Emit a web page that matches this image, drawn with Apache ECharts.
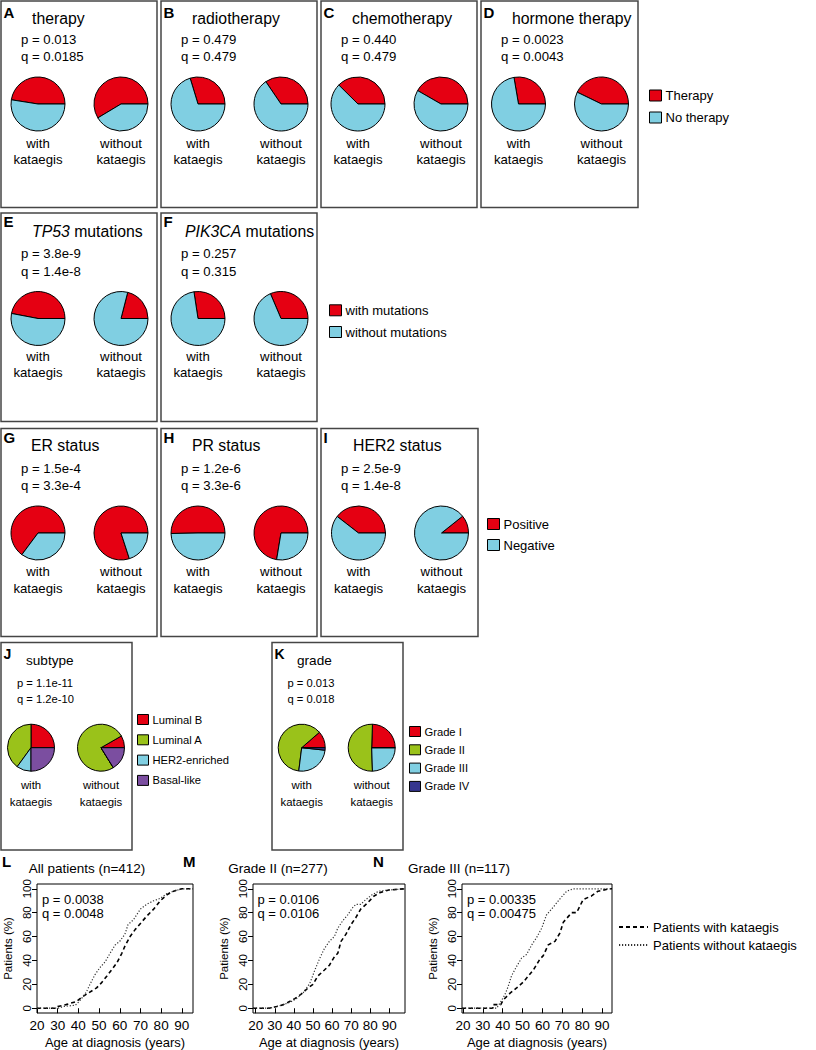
<!DOCTYPE html>
<html>
<head>
<meta charset="utf-8">
<script src="https://cdn.jsdelivr.net/npm/echarts@6/dist/echarts.min.js"></script>
<style>
html,body{margin:0;padding:0;background:#fff;}
#chart{width:816px;height:1050px;}
</style>
</head>
<body>
<div id="chart"></div>
<script>
// ---------------- DATA ----------------
const panelLetters = ['A','B','C','D','E','F','G','H','I','J','K'];
const panelTitles = ['therapy','radiotherapy','chemotherapy','hormone therapy','{i|TP53} mutations','{i|PIK3CA} mutations','ER status','PR status','HER2 status','subtype','grade'];
const pValues = ['0.013','0.479','0.440','0.0023','3.8e-9','0.257','1.5e-4','1.2e-6','2.5e-9','1.1e-11','0.013'];
const qValues = ['0.0185','0.479','0.479','0.0043','1.4e-8','0.315','3.3e-4','3.3e-6','1.4e-8','1.2e-10','0.018'];
const groupLabels = [['with','kataegis'],['without','kataegis']];

const therapyCats = ['Therapy','No therapy'];
const mutationCats = ['with mutations','without mutations'];
const statusCats = ['Positive','Negative'];
const subtypeCats = ['Luminal B','Luminal A','HER2-enriched','Basal-like'];
const gradeCats = ['Grade I','Grade II','Grade III','Grade IV'];

// percentages, in legend order (first slice starts at 3 o'clock, counter-clockwise)
const withKataegis = [
  [47.5,52.5],[29.7,70.3],[37.6,62.4],[27.7,72.3],
  [47,53],[27.4,72.6],
  [64.8,35.2],[50.3,49.7],[39.5,60.5],
  [25,40,10,25],[11.4,61.6,25.3,1.7]
];
const withoutKataegis = [
  [58.6,41.4],[34.5,65.5],[41.7,58.3],[42.8,57.2],
  [21,79],[31.4,68.6],
  [80,20],[72.4,27.6],[10.7,89.3],
  [8.3,75.5,0,16.2],[24.5,51,24.5,0]
];

const kmLetters = ['L','M','N'];
const kmTitles = ['All patients (n=412)','Grade II (n=277)','Grade III (n=117)'];
const kmP = ['0.0038','0.0106','0.00335'];
const kmQ = ['0.0048','0.0106','0.00475'];
const kmSeriesNames = ['Patients with kataegis','Patients without kataegis'];
const xTicks = [20,30,40,50,60,70,80,90];
const yTicks = [0,20,40,60,80,100];

const lAgeWith = [20,28.5,30,34,39,41.5,44.7,48.8,51,53.8,56,58.6,61,62.5,65,67.5,70,73,76.4,79.6,82.8,86,90,95.4];
const lPctWith = [0,0,1.4,3,5.6,9,12.6,17,21,27,32,38,46,52,60,66,71,77,83,90,95,98,100,100];
const lAgeWithout = [20,30,33,38.5,40,41.5,44,45.6,48,50.4,53,55.3,57.8,60,62.5,64,66.6,70,73,76.4,79.6,82.8,86,90,95.4];
const lPctWithout = [0,0,1.5,2.5,5,8,14,20,28,34,39,46,53,56,62,70,74,83,87,90,92,96,98,100,100];

const mAgeWith = [18.6,27,31,34.5,37,40.5,44,47.5,50,52.6,56,58.6,61.2,63,64.7,67.3,69.9,72.5,75,78.5,82,85.4,89.8,98];
const mPctWith = [0,0,1.4,3,5,8,12,17,20,27,32,36,43,46,56,62,70,76,83,88,94,97,99,100];
const mAgeWithout = [18.6,27,31,34.5,38,41.4,44.9,48.4,51,53.6,56,58.6,61.2,63,65.5,68.1,70.7,72.5,75,77.7,81,84.5,89.8,98];
const mPctWithout = [0,0,1.4,3,5,8,13,21,32,42,50,56,60,67,73,78,84,87,87,91,95,98,99,100];

const nAgeWith = [19.5,35,35,39,40.3,43.7,47,50.4,55.4,58.7,60.4,62.9,66.3,68.8,70.5,74.7,77.2,80.5,84.7,88,93.9,95];
const nPctWith = [0,0,3,3,7,12.6,17,22,32,41,44,53,56,63,72,80,80,91,94,98,100,100];
const nAgeWithout = [19.5,37,38.5,41,42.7,44.4,47,49.5,52,54.6,57,59.6,62,65.6,69,72.2,75.6,95];
const nPctWithout = [0,0,4,11,18,27,35,42,45,53,59,67,78,85,92,98,100,100];

// ---------------- STYLE / LAYOUT ----------------
const FONT = '"Liberation Sans", Arial, Helvetica, sans-serif';
const RED = '#e50012', BLUE = '#80cfe2', GREEN = '#9ac21a', PURPLE = '#7b4ea0', NAVY = '#35358f';
const twoColors = [RED, BLUE];
const subtypeColors = [RED, GREEN, BLUE, PURPLE];
const gradeColors = [RED, GREEN, BLUE, NAVY];

const rows = [
  {top:1, bottom:207.5, letterY:12, titleY:18, pY:39, qY:56.5, pieY:104, withY:143.5, katY:159.5, r:27, tFs:15.8, pFs:13.2, lFs:13.2, letFs:15},
  {top:213, bottom:421.5, letterY:221.7, titleY:231.7, pY:253.8, qY:271.3, pieY:318.5, withY:356.7, katY:372.5, r:27, tFs:15.8, pFs:13.2, lFs:13.2, letFs:15},
  {top:428.5, bottom:636.5, letterY:437.5, titleY:445, pY:468.3, qY:485, pieY:533, withY:571.7, katY:588, r:27, tFs:15.8, pFs:13.2, lFs:13.2, letFs:15},
  {top:642.5, bottom:850, letterY:654, titleY:660, pY:682.7, qY:699.3, pieY:747.7, withY:785.3, katY:801.5, r:23.5, tFs:13.6, pFs:11.2, lFs:11.4, letFs:14}
];
// panel: row, box left, box width, title offset, p offset, pie offsets
const panelLayout = [
  {row:0, left:1, w:156, tx:31, px:20, pies:[37,120]},
  {row:0, left:161, w:156, tx:31, px:20, pies:[37,120]},
  {row:0, left:321, w:156, tx:31, px:20, pies:[37,120]},
  {row:0, left:481, w:157, tx:31, px:20, pies:[37.5,120.5]},
  {row:1, left:1, w:156, tx:31, px:20, pies:[37,120]},
  {row:1, left:161, w:156, tx:24, px:20, pies:[37,120]},
  {row:2, left:1, w:156, tx:30, px:20, pies:[37,120]},
  {row:2, left:161, w:156, tx:31, px:20, pies:[37,120]},
  {row:2, left:321, w:157, tx:32, px:20, pies:[37.5,120.5]},
  {row:3, left:1, w:131, tx:25, px:16, pies:[30,100]},
  {row:3, left:272, w:131, tx:25, px:15.5, pies:[29.7,99.7]}
];
const panelCats = [therapyCats,therapyCats,therapyCats,therapyCats,mutationCats,mutationCats,statusCats,statusCats,statusCats,subtypeCats,gradeCats];
const panelColors = [twoColors,twoColors,twoColors,twoColors,twoColors,twoColors,twoColors,twoColors,twoColors,subtypeColors,gradeColors];

function txt(x, y, text, size, o) {
  o = o || {};
  const st = {
    text: text, fontSize: size, fontFamily: FONT, fill: '#000',
    fontWeight: o.bold ? 'bold' : 'normal',
    align: o.align || 'left', verticalAlign: 'middle',
    textAlign: o.align || 'left', textVerticalAlign: 'middle'
  };
  if (o.rich) st.rich = o.rich;
  return {type:'text', x:x, y:y, silent:true, style:st, z:10};
}

const graphics = [];
const series = [];

panelLayout.forEach((pl, i) => {
  const rw = rows[pl.row];
  graphics.push({type:'rect', silent:true, z:1,
    shape:{x:pl.left, y:rw.top, width:pl.w, height:rw.bottom - rw.top},
    style:{fill:'none', stroke:'#454545', lineWidth:1.5}});
  graphics.push(txt(pl.left + 2.5, rw.letterY, panelLetters[i], rw.letFs, {bold:true}));
  graphics.push(txt(pl.left + pl.tx, rw.titleY, panelTitles[i], rw.tFs,
    {rich:{i:{fontStyle:'italic', fontSize:rw.tFs, fontFamily:FONT, fill:'#000'}}}));
  graphics.push(txt(pl.left + pl.px, rw.pY, 'p = ' + pValues[i], rw.pFs));
  graphics.push(txt(pl.left + pl.px, rw.qY, 'q = ' + qValues[i], rw.pFs));
  [withKataegis[i], withoutKataegis[i]].forEach((vals, g) => {
    const cx = pl.left + pl.pies[g];
    series.push({
      type:'pie', silent:true, center:[cx, rw.pieY], radius:rw.r,
      startAngle:0, clockwise:false, label:{show:false}, labelLine:{show:false},
      emphasis:{disabled:true}, animation:false,
      itemStyle:{borderColor:'#000', borderWidth:1},
      data: panelCats[i].map((n, k) => ({name:n, value:vals[k], itemStyle:{color:panelColors[i][k]}}))
    });
    graphics.push(txt(cx, rw.withY, groupLabels[g][0], rw.lFs, {align:'center'}));
    graphics.push(txt(cx, rw.katY, groupLabels[g][1], rw.lFs, {align:'center'}));
  });
});

function pieLegend(names, left, top, gap, size, w, h) {
  return {
    data:names, orient:'vertical', left:left, top:top, padding:0,
    itemWidth:w, itemHeight:h, itemGap:gap, selectedMode:false, icon:'rect',
    itemStyle:{borderColor:'#000', borderWidth:1},
    textStyle:{fontSize:size, fontFamily:FONT, color:'#000', lineHeight:h, padding:[0,0,0,-1]}
  };
}

const legends = [
  pieLegend(therapyCats, 649, 89, 9, 13, 12, 11),
  pieLegend(mutationCats, 329, 303.8, 8.7, 13, 12, 11),
  pieLegend(statusCats, 487, 517.5, 8, 13, 12, 11),
  pieLegend(subtypeCats, 137, 714, 9.3, 11.2, 11, 10),
  pieLegend(gradeCats, 409, 726, 7.3, 11.2, 11, 10),
  {
    data:kmSeriesNames, orient:'vertical', left:618, top:920.5, padding:0,
    itemWidth:29, itemHeight:13, itemGap:5, selectedMode:false,
    itemStyle:{color:'rgba(0,0,0,0)', borderColor:'rgba(0,0,0,0)', borderWidth:0, opacity:0},
    textStyle:{fontSize:13, fontFamily:FONT, color:'#000', lineHeight:13}
  }
];

// KM grids
const kmGrids = [
  {left:37, top:884, width:156, height:129, xmin:20, xmax:95.4, titleX:87, letterX:2, pqX:42},
  {left:253, top:884, width:152, height:129, xmin:18.6, xmax:98.2, titleX:278, letterX:183, pqX:257.5},
  {left:462, top:884, width:150, height:129, xmin:19.5, xmax:95, titleX:459, letterX:373, pqX:467}
];
const kmData = [
  [[lAgeWith,lPctWith],[lAgeWithout,lPctWithout]],
  [[mAgeWith,mPctWith],[mAgeWithout,mPctWithout]],
  [[nAgeWith,nPctWith],[nAgeWithout,nPctWithout]]
];
const grids = [], xAxes = [], yAxes = [];
kmGrids.forEach((kg, i) => {
  grids.push({left:kg.left, top:kg.top, width:kg.width, height:kg.height, show:true,
    borderColor:'#000', borderWidth:1, backgroundColor:'transparent', containLabel:false});
  xAxes.push({type:'value', gridIndex:i, min:kg.xmin, max:kg.xmax,
    axisLine:{show:false}, splitLine:{show:false},
    axisTick:{show:true, inside:false, length:5, lineStyle:{color:'#000'}, customValues:xTicks},
    axisLabel:{fontSize:13.5, fontFamily:FONT, color:'#000', margin:5, customValues:xTicks, showMinLabel:true, showMaxLabel:true},
    name:'Age at diagnosis (years)', nameLocation:'middle', nameGap:23,
    nameTextStyle:{fontSize:13, fontFamily:FONT, color:'#000'}});
  yAxes.push({type:'value', gridIndex:i, min:-4, max:104,
    axisLine:{show:false}, splitLine:{show:false},
    axisTick:{show:true, inside:false, length:5, lineStyle:{color:'#000'}, customValues:yTicks},
    axisLabel:{fontSize:11.5, fontFamily:FONT, color:'#000', margin:4, rotate:90, customValues:yTicks},
    name:'Patients (%)', nameLocation:'middle', nameGap:23,
    nameTextStyle:{fontSize:11.5, fontFamily:FONT, color:'#000'}});
  kmData[i].forEach((pair, s) => {
    series.push({
      type:'line', name:kmSeriesNames[s], xAxisIndex:i, yAxisIndex:i, silent:true,
      symbol:'none', animation:false, clip:true,
      data: pair[0].map((a, k) => [a, pair[1][k]]),
      itemStyle:{color:'#000'},
      lineStyle: s === 0 ? {color:'#000', width:1.6, type:[4,3]} : {color:'#333', width:1.2, type:[1.2,1.8]}
    });
  });
  graphics.push(txt(kg.letterX, 861, kmLetters[i], 15, {bold:true}));
  graphics.push(txt(kg.titleX, 868, kmTitles[i], 13.5, {align:'center'}));
  graphics.push(txt(kg.pqX, 899, 'p = ' + kmP[i], 13));
  graphics.push(txt(kg.pqX, 913.5, 'q = ' + kmQ[i], 13));
});

const chart = echarts.init(document.getElementById('chart'), null, {renderer:'svg'});
chart.setOption({
  animation:false,
  backgroundColor:'#fff',
  textStyle:{fontFamily:FONT},
  grid:grids, xAxis:xAxes, yAxis:yAxes,
  legend:legends,
  series:series,
  graphic:{elements:graphics}
});
</script>
</body>
</html>
